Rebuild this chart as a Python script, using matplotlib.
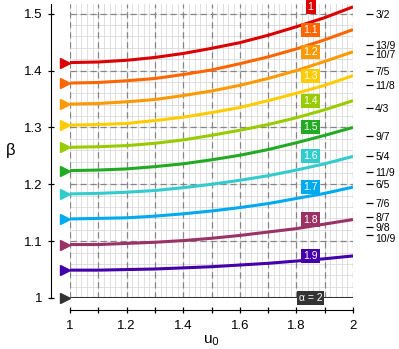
import numpy as np
import matplotlib
matplotlib.use("Agg")
import matplotlib.pyplot as plt
import matplotlib.transforms as mtransforms
from matplotlib.ticker import MultipleLocator

plt.rcParams['font.family'] = ['Liberation Sans', 'DejaVu Sans']

u0 = [1.0, 1.1, 1.2, 1.3, 1.4, 1.5, 1.6, 1.7, 1.8, 1.9, 2.0]

alphas = ['1', '1.1', '1.2', '1.3', '1.4', '1.5', '1.6', '1.7', '1.8', '1.9', 'α = 2']
beta = [
    [1.414, 1.415, 1.418, 1.423, 1.430, 1.439, 1.449, 1.462, 1.477, 1.493, 1.512],
    [1.378, 1.379, 1.382, 1.386, 1.393, 1.401, 1.412, 1.424, 1.438, 1.454, 1.472],
    [1.341, 1.342, 1.345, 1.349, 1.356, 1.364, 1.374, 1.386, 1.400, 1.416, 1.433],
    [1.304, 1.305, 1.307, 1.312, 1.318, 1.326, 1.335, 1.347, 1.360, 1.374, 1.391],
    [1.265, 1.266, 1.268, 1.272, 1.278, 1.286, 1.295, 1.305, 1.317, 1.331, 1.347],
    [1.224, 1.225, 1.227, 1.231, 1.236, 1.243, 1.251, 1.261, 1.273, 1.286, 1.300],
    [1.183, 1.184, 1.186, 1.189, 1.194, 1.200, 1.207, 1.215, 1.225, 1.236, 1.249],
    [1.139, 1.140, 1.141, 1.144, 1.148, 1.153, 1.159, 1.166, 1.175, 1.184, 1.195],
    [1.094, 1.094, 1.096, 1.098, 1.101, 1.105, 1.110, 1.116, 1.122, 1.130, 1.138],
    [1.049, 1.049, 1.050, 1.051, 1.053, 1.055, 1.058, 1.061, 1.065, 1.069, 1.074],
    [1.000, 1.000, 1.000, 1.000, 1.000, 1.000, 1.000, 1.000, 1.000, 1.000, 1.000],
]
colors = ['#dd0000', '#ff6600', '#ff9900', '#ffcc00', '#99cc00', '#22aa22',
          '#33cccc', '#00aaee', '#993366', '#4400aa', '#333333']

# right-hand reference values
frac_vals = [3/2, 13/9, 10/7, 7/5, 11/8, 4/3, 9/7, 5/4, 11/9, 6/5, 7/6, 8/7, 9/8, 10/9]
frac_labels = ['3/2', '13/9', '10/7', '7/5', '11/8', '4/3', '9/7', '5/4', '11/9',
               '6/5', '7/6', '8/7', '9/8', '10/9']

W, H = 399, 349
fig = plt.figure(figsize=(W / 100, H / 100), dpi=100)
x0, x1, y0, y1 = 70, 353, 4, 298
ax = fig.add_axes([x0 / W, 1 - y1 / H, (x1 - x0) / W, (y1 - y0) / H])
ax.set_xlim(1, 2)
ax.set_ylim(1, 1.517)

# grid
ax.xaxis.set_minor_locator(MultipleLocator(0.1))
for v in np.arange(1.0, 2.001, 0.02):
    ax.axvline(v, color='#dadada', lw=0.6, zorder=0)
for v in np.arange(1.0, 1.52, 0.02):
    ax.axhline(v, color='#dadada', lw=0.6, zorder=0)
for v in np.arange(1.0, 2.001, 0.1):
    ax.axvline(v, color='#858585', lw=0.9, ls=(0, (5, 3)), zorder=1)
for v in np.arange(1.1, 1.51, 0.1):
    ax.axhline(v, color='#858585', lw=0.9, ls=(0, (5, 3)), zorder=1)

mk_off = mtransforms.ScaledTranslation(-5 / 100, 0, fig.dpi_scale_trans)
for lab, b, c in zip(alphas, beta, colors):
    ax.plot(u0, b, color=c, lw=2.2, zorder=3, solid_capstyle='butt')
    ax.plot([u0[0]], [b[0]], marker='>', ms=6.5, color=c, clip_on=False,
            transform=ax.transData + mk_off, zorder=4)
    ax.text(1.85, b[-1], lab, color='white', fontsize=7.5, ha='center', va='center',
            zorder=5, bbox=dict(boxstyle='square,pad=0.2', fc=c, ec='none'))

for s in ['top', 'right']:
    ax.spines[s].set_visible(False)
ax.spines['left'].set_position(('outward', 13.5))
ax.spines['bottom'].set_position(('outward', 8.5))
ax.tick_params(axis='both', which='both', direction='inout', length=5, width=0.9,
               labelsize=9.5)
ax.tick_params(axis='x', pad=5)
ax.set_xticks([1, 1.2, 1.4, 1.6, 1.8, 2])
ax.set_xticklabels(['1', '1.2', '1.4', '1.6', '1.8', '2'])
ax.set_yticks([1, 1.1, 1.2, 1.3, 1.4, 1.5])
ax.set_yticklabels(['1', '1.1', '1.2', '1.3', '1.4', '1.5'])
ax.set_xlabel('u$_0$', fontsize=11, labelpad=1)
ax.set_ylabel('β', fontsize=12, rotation=0, labelpad=10, va='center')

ax2 = ax.twinx()
ax2.set_ylim(ax.get_ylim())
for s in ['top', 'left', 'bottom', 'right']:
    ax2.spines[s].set_visible(False)
ax2.spines['right'].set_position(('outward', 9))
ax2.set_yticks(frac_vals)
ax2.set_yticklabels(frac_labels)
ax2.tick_params(axis='y', direction='out', length=5, width=0.9, labelsize=7.5, pad=2)
# nudge the crowded 10/9 label down a little, as in the original
lbl = ax2.get_yticklabels()[-1]
lbl.set_transform(lbl.get_transform()
                  + mtransforms.ScaledTranslation(0, -3 / 100, fig.dpi_scale_trans))

fig.savefig('out.png', dpi=100)
